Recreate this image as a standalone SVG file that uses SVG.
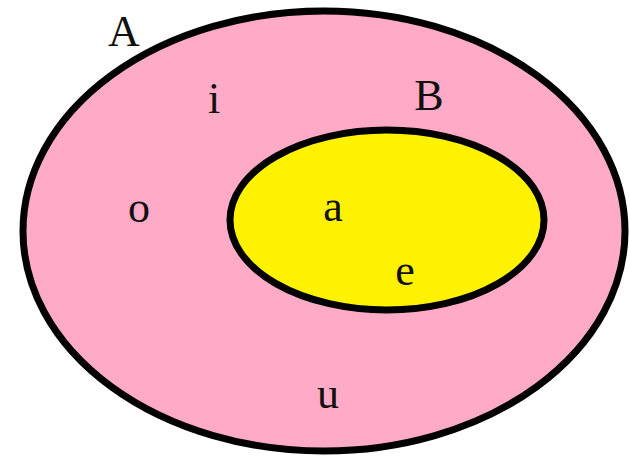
<svg xmlns="http://www.w3.org/2000/svg" width="630" height="456" viewBox="0 0 630 456">
<style>
.set{stroke:#000;stroke-width:7}
.lbl{font-family:"Liberation Serif","DejaVu Serif",serif;font-size:44px;fill:#111;text-anchor:middle}
</style>
<rect width="630" height="456" fill="#fff"/>
<g id="setA">
<ellipse class="set" cx="324" cy="231" rx="301" ry="220" fill="#FFAAC6"/>
<text class="lbl" x="124" y="46">A</text>
</g>
<g id="setB">
<ellipse class="set" cx="387" cy="220" rx="157" ry="90" fill="#FFF200"/>
<text class="lbl" x="429" y="110">B</text>
</g>
<g id="elements">
<text class="lbl" x="214" y="113">i</text>
<text class="lbl" x="139" y="222">o</text>
<text class="lbl" x="333" y="221">a</text>
<text class="lbl" x="405" y="285">e</text>
<text class="lbl" x="328" y="408">u</text>
</g>
<g id="connectors"/>
</svg>
